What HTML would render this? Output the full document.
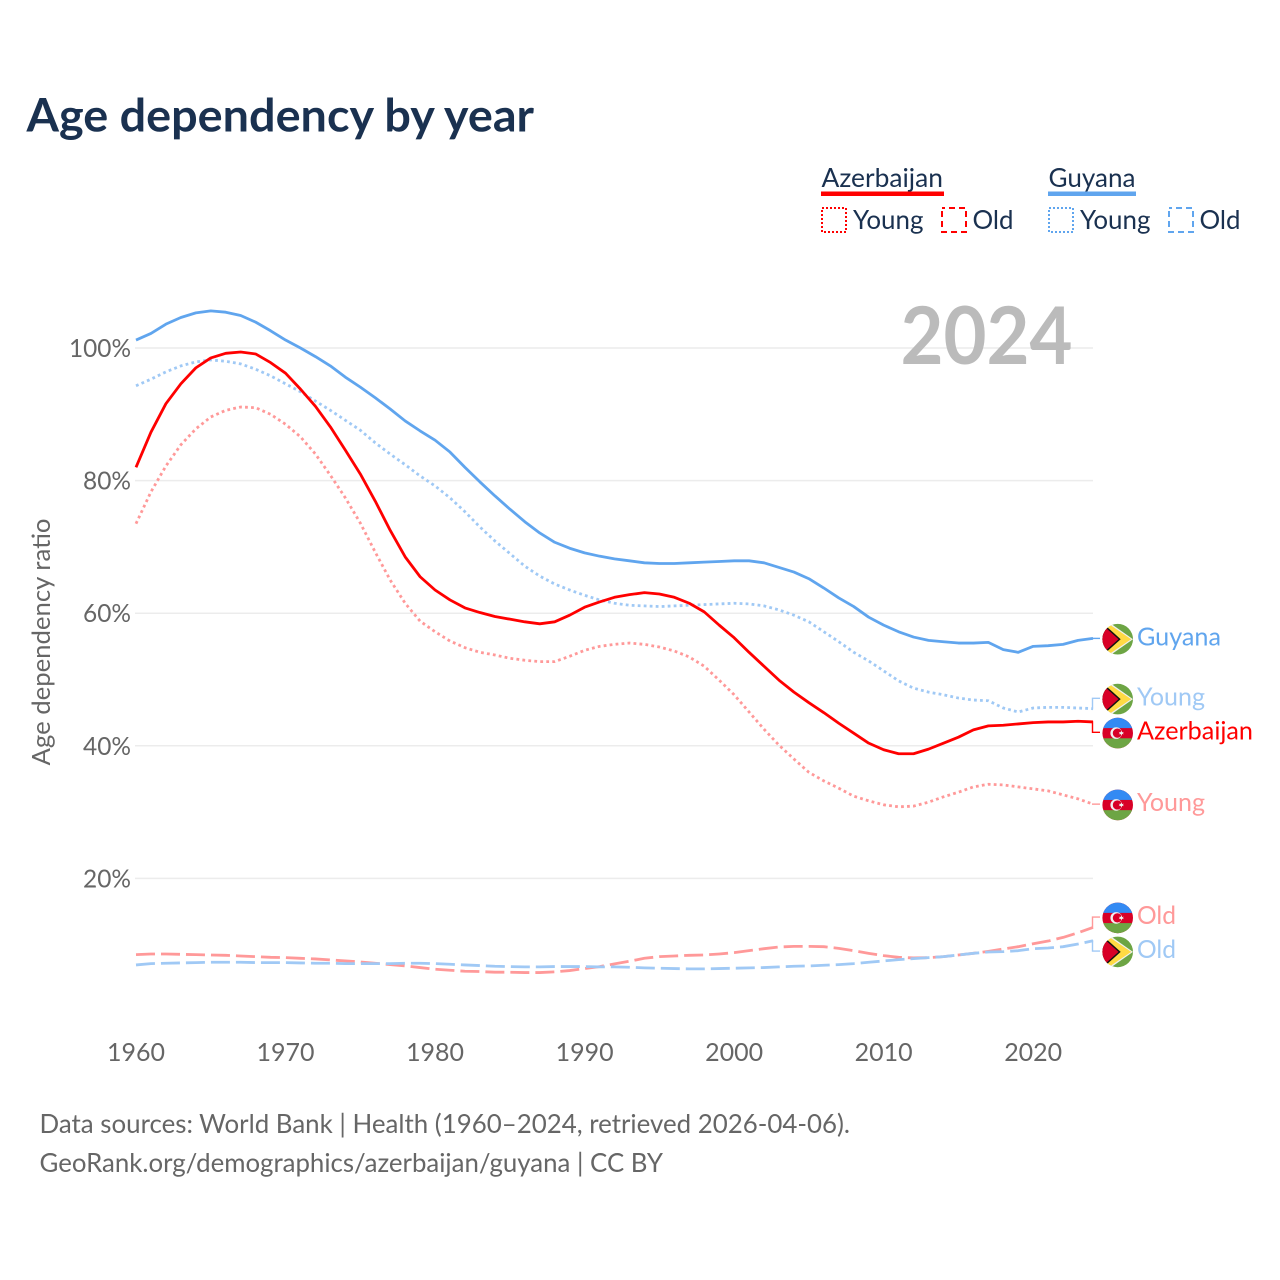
<!DOCTYPE html>
<html lang="en">
<head>
<meta charset="utf-8">
<title>Age dependency by year</title>
<style>
html,body{margin:0;padding:0;background:#fff}
svg{display:block}
text{font-family:"Lato","Carlito","Liberation Sans",sans-serif}
</style>
</head>
<body>
<svg id="chart" width="1280" height="1280" viewBox="0 0 1280 1280" xmlns="http://www.w3.org/2000/svg">
<defs>
<clipPath id="flag-clip"><circle cx="0" cy="0" r="15.3"/></clipPath>
<g id="flag-azerbaijan" clip-path="url(#flag-clip)">
<rect x="-16" y="-16" width="32" height="32" fill="#d80027"/>
<rect x="-16" y="-16" width="32" height="11" fill="#338af3"/>
<rect x="-16" y="5.2" width="32" height="11" fill="#6da544"/>
<circle cx="-1.5" cy="0" r="5.8" fill="#f0f0f0"/>
<circle cx="-0.3" cy="0" r="4.6" fill="#d80027"/>
<polygon points="3.6,-2.6 4.4,-0.9 6.3,-1.2 5,0 6.3,1.2 4.4,0.9 3.6,2.6 2.9,0.9 1,1.2 2.2,0 1,-1.2 2.9,-0.9" fill="#f0f0f0"/>
</g>
<g id="flag-guyana" clip-path="url(#flag-clip)">
<rect x="-16" y="-16" width="32" height="32" fill="#6da544"/>
<polygon points="-16,-22 15.3,0 -16,22" fill="#f0f0f0"/>
<polygon points="-16,-20 13.5,0 -16,20" fill="#ffda44"/>
<polygon points="-16,-17 3,0 -16,17" fill="#111"/>
<polygon points="-16,-15 0.8,0 -16,15" fill="#d80027"/>
</g>
</defs>

<rect x="0" y="0" width="1280" height="1280" fill="#fff"/>

<text x="26.5" y="131.5" font-size="46" font-weight="700" fill="#1a3150" textLength="507.5" lengthAdjust="spacingAndGlyphs">Age dependency by year</text>

<g>
<g>
<text x="821.5" y="187" font-size="26" fill="#1a3150" textLength="121.5" lengthAdjust="spacingAndGlyphs">Azerbaijan</text>
<rect x="821" y="191.5" width="123" height="4.5" fill="#ff0000"/>
</g>
<g>
<rect x="822" y="208" width="24" height="24" fill="none" stroke="#ff0000" stroke-width="2" stroke-dasharray="2 2"/>
<text x="853" y="229" font-size="26" fill="#1a3150" textLength="70.5" lengthAdjust="spacingAndGlyphs">Young</text>
</g>
<g>
<rect x="942" y="208" width="24" height="24" fill="none" stroke="#ff0000" stroke-width="2" stroke-dasharray="6 4" stroke-dashoffset="3"/>
<text x="972.5" y="229" font-size="26" fill="#1a3150" textLength="41" lengthAdjust="spacingAndGlyphs">Old</text>
</g>
<g>
<text x="1048.5" y="187" font-size="26" fill="#1a3150" textLength="87" lengthAdjust="spacingAndGlyphs">Guyana</text>
<rect x="1048" y="191.5" width="88" height="4.5" fill="#60a5ee"/>
</g>
<g>
<rect x="1049" y="208" width="24" height="24" fill="none" stroke="#60a5ee" stroke-width="2" stroke-dasharray="2 2"/>
<text x="1080" y="229" font-size="26" fill="#1a3150" textLength="70.5" lengthAdjust="spacingAndGlyphs">Young</text>
</g>
<g>
<rect x="1169" y="208" width="24" height="24" fill="none" stroke="#60a5ee" stroke-width="2" stroke-dasharray="6 4" stroke-dashoffset="3"/>
<text x="1199.5" y="229" font-size="26" fill="#1a3150" textLength="41" lengthAdjust="spacingAndGlyphs">Old</text>
</g>
</g>

<g id="grid"></g>
<g id="y-axis"></g>
<g id="x-axis"></g>

<text transform="translate(50,642) rotate(-90)" text-anchor="middle" font-size="25" fill="#666666" textLength="247" lengthAdjust="spacingAndGlyphs">Age dependency ratio</text>

<text x="1072.5" y="364" text-anchor="end" font-size="80" font-weight="700" fill="#bbbbbb" textLength="172" lengthAdjust="spacingAndGlyphs">2024</text>

<g id="series"></g>
<g id="end-labels"></g>

<text x="39.5" y="1133" font-size="26" fill="#666666" textLength="810.5" lengthAdjust="spacingAndGlyphs">Data sources: World Bank | Health (1960–2024, retrieved 2026-04-06).</text>
<text x="39.5" y="1172" font-size="26" fill="#666666" textLength="623.5" lengthAdjust="spacingAndGlyphs">GeoRank.org/demographics/azerbaijan/guyana | CC BY</text>
</svg>

<script>
var startYear = 1960;
var endYear = 2024;
var yearTicks = [1960, 1970, 1980, 1990, 2000, 2010, 2020];
var percentTicks = [100, 80, 60, 40, 20];

var guyanaTotal = [101.2,102.2,103.6,104.6,105.3,105.6,105.4,104.9,103.9,102.6,101.2,100,98.7,97.3,95.6,94.1,92.5,90.8,89,87.5,86.1,84.3,82,79.8,77.7,75.7,73.8,72.1,70.7,69.8,69.1,68.6,68.2,67.9,67.6,67.5,67.5,67.6,67.7,67.8,67.9,67.9,67.6,66.9,66.2,65.2,63.8,62.3,61,59.4,58.2,57.2,56.4,55.9,55.7,55.5,55.5,55.6,54.5,54.1,55,55.1,55.3,55.9,56.2];
var guyanaYoung = [94.3,95.3,96.4,97.3,97.9,98.2,98,97.6,96.8,95.8,94.6,93.4,92,90.6,89.1,87.6,85.7,84,82.4,80.7,79.2,77.4,75.3,73,70.9,69,67.1,65.6,64.4,63.5,62.7,62,61.5,61.2,61.1,61,61.1,61.2,61.3,61.4,61.5,61.4,61.1,60.5,59.7,58.7,57.2,55.7,54.1,52.8,51.3,49.8,48.7,48.1,47.7,47.2,46.9,46.8,45.7,45.1,45.7,45.8,45.8,45.7,45.6];
var guyanaOld = [6.95,7.15,7.2,7.25,7.3,7.35,7.35,7.35,7.3,7.3,7.3,7.25,7.2,7.2,7.15,7.15,7.15,7.15,7.2,7.2,7.15,7.05,6.95,6.85,6.75,6.7,6.65,6.65,6.7,6.7,6.7,6.65,6.65,6.6,6.5,6.45,6.4,6.35,6.35,6.4,6.45,6.5,6.55,6.65,6.75,6.8,6.9,7,7.15,7.35,7.55,7.75,7.9,8.05,8.2,8.45,8.7,8.9,8.95,9.1,9.4,9.5,9.7,10.1,10.6];
var azerbaijanTotal = [82,87.3,91.6,94.6,97,98.5,99.2,99.4,99.1,97.8,96.2,93.8,91.2,88.1,84.6,81,76.9,72.5,68.5,65.5,63.5,62,60.8,60.1,59.5,59.1,58.7,58.4,58.7,59.7,60.9,61.7,62.4,62.8,63.1,62.9,62.4,61.5,60.2,58.2,56.3,54.1,52,49.9,48.1,46.5,45,43.4,41.9,40.4,39.4,38.8,38.8,39.5,40.4,41.3,42.4,43,43.1,43.3,43.5,43.6,43.6,43.7,43.6];
var azerbaijanYoung = [73.5,78.3,82.2,85.4,87.8,89.6,90.6,91.1,91,90,88.5,86.6,84,80.8,77.4,73.6,69.2,65,61.5,58.8,57.2,55.8,54.8,54.1,53.7,53.2,52.9,52.7,52.7,53.5,54.4,55,55.3,55.5,55.3,54.9,54.3,53.4,52,49.9,47.7,45.1,42.5,40.1,38,36,34.7,33.6,32.4,31.7,31.1,30.8,30.9,31.5,32.3,33,33.8,34.2,34.1,33.8,33.5,33.2,32.6,32,31.2];
var azerbaijanOld = [8.5,8.6,8.6,8.55,8.5,8.45,8.4,8.3,8.2,8.1,8.05,7.95,7.85,7.7,7.55,7.4,7.2,7,6.8,6.55,6.3,6.15,6,5.95,5.85,5.85,5.8,5.8,5.9,6.1,6.4,6.7,7.1,7.5,7.95,8.2,8.3,8.4,8.45,8.6,8.8,9.1,9.4,9.65,9.75,9.75,9.7,9.45,9.1,8.7,8.35,8.1,8,8.05,8.2,8.45,8.7,9,9.35,9.7,10.15,10.55,11.1,11.8,12.6];

var SVG_NS = 'http://www.w3.org/2000/svg';
var BLUE = '#60a5ee';
var BLUE_LIGHT = '#a0c9f5';
var RED = '#ff0000';
var RED_LIGHT = '#ff9999';
var PLOT_LEFT = 136;
var PLOT_RIGHT = 1093;
var ZERO_Y = 1011;
var HUNDRED_Y = 348;
var LABEL_GAP = 34;

function xScale(year) {
  return PLOT_LEFT + (year - startYear) * (PLOT_RIGHT - PLOT_LEFT) / (endYear - startYear);
}
function yScale(value) {
  return ZERO_Y + (HUNDRED_Y - ZERO_Y) * value / 100;
}
function make(tag, attrs, parent) {
  var el = document.createElementNS(SVG_NS, tag);
  for (var k in attrs) el.setAttribute(k, attrs[k]);
  parent.appendChild(el);
  return el;
}

var grid = document.getElementById('grid');
var yAxis = document.getElementById('y-axis');
var xAxis = document.getElementById('x-axis');
var seriesGroup = document.getElementById('series');
var labelGroup = document.getElementById('end-labels');

percentTicks.forEach(function (p) {
  var y = yScale(p);
  var line = make('line', {x1: PLOT_LEFT - 1, x2: PLOT_RIGHT, y1: y, y2: y, stroke: '#ececec', 'stroke-width': 1.5}, grid);
  
  
  var t = make('text', {x: 131, y: y + 9, 'text-anchor': 'end', 'font-size': 25, fill: '#666666'}, yAxis);
  t.textContent = p + '%';
  
  
  t.setAttribute('textLength', (String(p).length === 3 ? 62 : 48));
  t.setAttribute('lengthAdjust', 'spacingAndGlyphs');
});

yearTicks.forEach(function (yr) {
  var t = make('text', {x: xScale(yr), y: 1061, 'text-anchor': 'middle', 'font-size': 25, fill: '#666666'}, xAxis);
  t.textContent = String(yr);
  
  
  t.setAttribute('textLength', 58);
  t.setAttribute('lengthAdjust', 'spacingAndGlyphs');
});

var seriesList = [
  {key: 'azerbaijan-old', values: azerbaijanOld, color: RED_LIGHT, dash: '19 6', label: 'Old', flag: 'flag-azerbaijan'},
  {key: 'guyana-old', values: guyanaOld, color: BLUE_LIGHT, dash: '19 6', label: 'Old', flag: 'flag-guyana'},
  {key: 'guyana-young', values: guyanaYoung, color: BLUE_LIGHT, dash: '2.8 3.2', label: 'Young', flag: 'flag-guyana'},
  {key: 'azerbaijan-young', values: azerbaijanYoung, color: RED_LIGHT, dash: '2.8 3.2', label: 'Young', flag: 'flag-azerbaijan'},
  {key: 'guyana-total', values: guyanaTotal, color: BLUE, dash: null, label: 'Guyana', flag: 'flag-guyana'},
  {key: 'azerbaijan-total', values: azerbaijanTotal, color: RED, dash: null, label: 'Azerbaijan', flag: 'flag-azerbaijan'}
];

seriesList.forEach(function (s) {
  var d = s.values.map(function (v, i) {
    return (i ? 'L' : 'M') + xScale(startYear + i).toFixed(2) + ' ' + yScale(v).toFixed(2);
  }).join(' ');
  s.endY = yScale(s.values[s.values.length - 1]);
  s.labelY = s.endY;
  s.path = d;
});

/* push end labels apart so they keep a minimum vertical gap */
var ordered = seriesList.slice().sort(function (a, b) { return a.endY - b.endY; });
for (var pass = 0; pass < 20; pass++) {
  for (var i = 0; i < ordered.length - 1; i++) {
    var a = ordered[i], b = ordered[i + 1];
    var gap = b.labelY - a.labelY;
    if (gap < LABEL_GAP) {
      var shift = (LABEL_GAP - gap) / 2;
      a.labelY -= shift;
      b.labelY += shift;
    }
  }
}

seriesList.forEach(function (s) {
  var attrs = {d: s.path, fill: 'none', stroke: s.color, 'stroke-width': 2.8, 'stroke-linejoin': 'round'};
  if (s.dash) attrs['stroke-dasharray'] = s.dash;
  var path = make('path', attrs, seriesGroup);
  
  

  var connector = make('path', {d: 'M' + (PLOT_RIGHT - 1) + ' ' + s.endY.toFixed(2) + ' H' + (PLOT_RIGHT - 0.5) + ' V' + s.labelY.toFixed(2) + ' H1100', fill: 'none', stroke: s.color, 'stroke-width': 1.4}, seriesGroup);
  
  

  var flag = make('use', {href: '#' + s.flag, transform: 'translate(1117.7,' + (s.labelY + 0.8).toFixed(2) + ')'}, labelGroup);
  
  

  var t = make('text', {x: 1137, y: (s.labelY + 7).toFixed(2), 'font-size': 25, fill: s.color}, labelGroup);
  t.textContent = s.label;
  
  
  t.setAttribute('textLength', s.label === 'Azerbaijan' ? 116 : (s.label === 'Guyana' ? 84 : (s.label === 'Young' ? 68 : 39)));
  t.setAttribute('lengthAdjust', 'spacingAndGlyphs');
});
</script>
</body>
</html>
